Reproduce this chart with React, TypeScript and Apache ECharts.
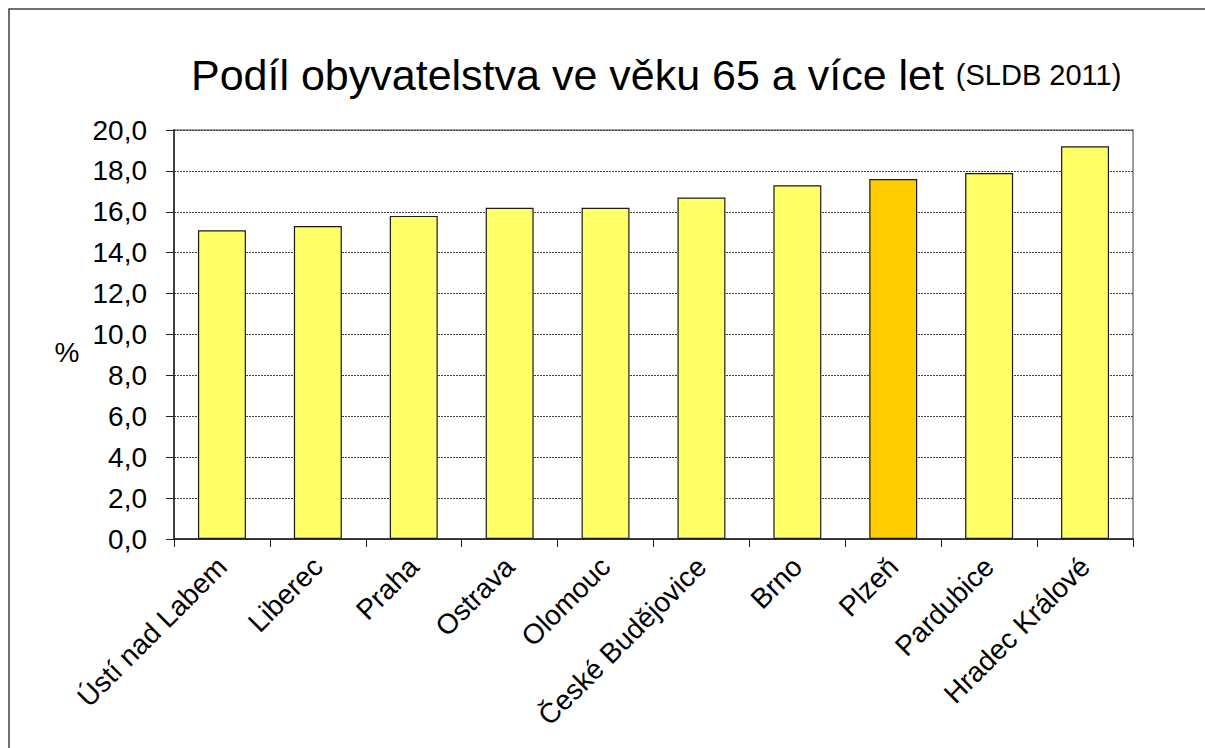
import React, { useEffect, useRef } from "react";
import * as echarts from "echarts";

const categories = [
  "Ústí nad Labem",
  "Liberec",
  "Praha",
  "Ostrava",
  "Olomouc",
  "České Budějovice",
  "Brno",
  "Plzeň",
  "Pardubice",
  "Hradec Králové",
];
const values = [15.1, 15.3, 15.8, 16.2, 16.2, 16.7, 17.3, 17.6, 17.9, 19.2];
const highlighted = "Plzeň";
const titleMain = "Podíl obyvatelstva ve věku 65 a více let";
const titleSub = "(SLDB 2011)";
const yAxisName = "%";

const FONT = "'Liberation Sans', Arial, sans-serif";

export default function App() {
  const ref = useRef<HTMLDivElement>(null);
  useEffect(() => {
    if (!ref.current) return;
    const chart = echarts.init(ref.current, null, { renderer: "svg" });
    chart.setOption({
      animation: false,
      backgroundColor: "#ffffff",
      textStyle: { fontFamily: FONT },
      title: {
        text: `{m|${titleMain} }{s|${titleSub}}`,
        left: 186,
        top: 48,
        textStyle: {
          fontWeight: "normal",
          rich: {
            m: { fontSize: 43, color: "#000", fontFamily: FONT, fontWeight: "normal" },
            s: { fontSize: 29, color: "#000", fontFamily: FONT, fontWeight: "normal" },
          },
        },
      },
      graphic: [
        {
          type: "rect",
          shape: { x: 9, y: 9, width: 1300, height: 800 },
          style: { fill: "none", stroke: "#404040", lineWidth: 1.5 },
          silent: true,
        },
        {
          type: "text",
          x: 67,
          y: 352,
          style: {
            text: yAxisName,
            font: `28px ${FONT}`,
            fill: "#000",
            textAlign: "center",
            textVerticalAlign: "middle",
          },
        },
      ],
      grid: {
        left: 174,
        right: 72,
        top: 130,
        bottom: 209,
        show: true,
        borderColor: "#808080",
        borderWidth: 1.5,
        backgroundColor: "#ffffff",
      },
      xAxis: {
        type: "category",
        data: categories,
        axisLine: { lineStyle: { color: "#222", width: 1.5 } },
        axisTick: { show: true, length: 8, lineStyle: { color: "#222", width: 1 } },
        axisLabel: {
          rotate: 45,
          interval: 0,
          margin: 23,
          fontSize: 28,
          color: "#000",
          fontFamily: FONT,
        },
      },
      yAxis: {
        type: "value",
        min: 0,
        max: 20,
        interval: 2,
        axisLine: { show: true, lineStyle: { color: "#222", width: 1.5 } },
        axisTick: { show: true, length: 8, lineStyle: { color: "#222", width: 1 } },
        axisLabel: {
          margin: 27,
          fontSize: 28,
          color: "#000",
          fontFamily: FONT,
          formatter: (v: number) => v.toFixed(1).replace(".", ","),
        },
        splitLine: {
          show: true,
          lineStyle: { color: "#404040", width: 1, type: [2, 1] },
        },
      },
      series: [
        {
          type: "bar",
          barWidth: "50%",
          data: values.map((v, i) => ({
            value: v,
            itemStyle: {
              color: categories[i] === highlighted ? "#FFCC00" : "#FFFF66",
            },
          })),
          itemStyle: {
            borderColor: "#1a1a1a",
            borderWidth: 1.2,
          },
        },
      ],
    });
    return () => chart.dispose();
  }, []);
  return (
    <div
      ref={ref}
      style={{ position: "absolute", left: 0, top: 0, width: 1205, height: 748 }}
    />
  );
}
